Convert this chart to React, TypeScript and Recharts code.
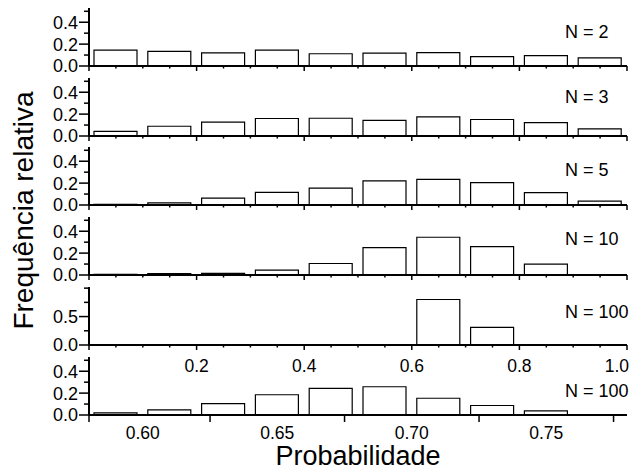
import React from 'react';
import { BarChart, Bar, XAxis, YAxis } from 'recharts';

// ---- data ----
const binCentersWide = [0.05, 0.15, 0.25, 0.35, 0.45, 0.55, 0.65, 0.75, 0.85, 0.95];
const binCentersNarrow = [0.59, 0.61, 0.63, 0.65, 0.67, 0.69, 0.71, 0.73, 0.75, 0.77];

const freqN2 = [0.145, 0.133, 0.12, 0.145, 0.112, 0.118, 0.122, 0.085, 0.095, 0.075];
const freqN3 = [0.043, 0.089, 0.126, 0.16, 0.162, 0.143, 0.174, 0.151, 0.123, 0.066];
const freqN5 = [0.005, 0.02, 0.062, 0.115, 0.155, 0.22, 0.235, 0.205, 0.113, 0.035];
const freqN10 = [0.005, 0.012, 0.015, 0.045, 0.105, 0.25, 0.345, 0.26, 0.1, 0];
const freqN100 = [0, 0, 0, 0, 0, 0, 0.8, 0.31, 0, 0];
const freqN100Zoom = [0.02, 0.046, 0.104, 0.185, 0.243, 0.258, 0.153, 0.087, 0.038, 0];

const panelLabels = ['N = 2', 'N = 3', 'N = 5', 'N = 10', 'N = 100', 'N = 100'];

const wideXTicks = [0, 0.05, 0.1, 0.15, 0.2, 0.25, 0.3, 0.35, 0.4, 0.45, 0.5, 0.55, 0.6, 0.65, 0.7, 0.75, 0.8, 0.85, 0.9, 0.95, 1.0];
const wideXMajor = [0, 0.2, 0.4, 0.6, 0.8, 1.0];
const wideXLabels = [0.2, 0.4, 0.6, 0.8, 1.0];
const narrowXTicks = [0.58, 0.6, 0.625, 0.65, 0.675, 0.7, 0.725, 0.75, 0.775];
const narrowXMarks = [0.58, 0.625, 0.675, 0.725, 0.775];
const narrowXLabels = [0.6, 0.65, 0.7, 0.75];

const yTicksSmall = [0, 0.1, 0.2, 0.3, 0.4, 0.5];
const yLabelsSmall = [0, 0.2, 0.4];
const yTicksLarge = [0, 0.25, 0.5, 0.75, 1.0];
const yLabelsLarge = [0, 0.5];

// ---- layout ----
const W = 629;
const H = 473;
const FONT = '"Liberation Sans", Arial, Helvetica, sans-serif';
const FIRST_ZERO = 66;
const PITCH = 69.7;
const PLOT_H = 58;
const MT = 6;
const XAXIS_H = 32;
const Y_AXIS_W = 89;
const RIGHT_M = 2;
const labelBaselines = [38, 103, 176, 245, 318, 397];

const near = (a: number, list: number[]) => list.some((v) => Math.abs(v - a) < 1e-6);

type PanelCfg = {
  values: number[];
  centers: number[];
  xDomain: [number, number];
  xTicks: number[];
  xMarks: number[];
  xMajor: number[];
  xLabels: number[];
  xDigits: number;
  xMajorLen: number;
  xMinorLen: number;
  xLabelDy: number;
  yDomain: [number, number];
  yTicks: number[];
  yLabels: number[];
  yDigits: number;
};

const wideBase = {
  centers: binCentersWide,
  xDomain: [0, 1] as [number, number],
  xTicks: wideXTicks,
  xMarks: wideXTicks,
  xMajor: wideXMajor,
  xDigits: 1,
  xMajorLen: 5,
  xMinorLen: 2.5,
  xLabelDy: 27,
  yDomain: [0, 0.53] as [number, number],
  yTicks: yTicksSmall,
  yLabels: yLabelsSmall,
  yDigits: 1,
};

const panels: PanelCfg[] = [
  { ...wideBase, values: freqN2, xLabels: [] },
  { ...wideBase, values: freqN3, xLabels: [] },
  { ...wideBase, values: freqN5, xLabels: [] },
  { ...wideBase, values: freqN10, xLabels: [] },
  { ...wideBase, values: freqN100, xLabels: wideXLabels, yDomain: [0, 1.02], yTicks: yTicksLarge, yLabels: yLabelsLarge },
  {
    ...wideBase,
    values: freqN100Zoom,
    centers: binCentersNarrow,
    xDomain: [0.58, 0.78],
    xTicks: narrowXTicks,
    xMarks: narrowXMarks,
    xMajor: narrowXMarks,
    xLabels: narrowXLabels,
    xDigits: 2,
    xMajorLen: 7,
    xLabelDy: 24,
  },
];

function makeXTick(p: PanelCfg) {
  return (props: any) => {
    const { x, y, payload } = props;
    const v = payload.value as number;
    const mark = near(v, p.xMarks);
    const major = near(v, p.xMajor);
    const lab = near(v, p.xLabels);
    const atEnd = Math.abs(v - p.xDomain[1]) < 1e-6;
    return (
      <g>
        {mark && (
          <line x1={x} x2={x} y1={y} y2={y + (major ? p.xMajorLen : p.xMinorLen)} stroke="#000" strokeWidth={1.5} />
        )}
        {lab && (
          <text
            x={atEnd ? x + 2 : x}
            y={y + p.xLabelDy}
            textAnchor={atEnd ? 'end' : 'middle'}
            fontSize={17.5}
            fill="#000"
            fontFamily={FONT}
          >
            {v.toFixed(p.xDigits)}
          </text>
        )}
      </g>
    );
  };
}

function makeYTick(p: PanelCfg) {
  return (props: any) => {
    const { x, y, payload } = props;
    const v = payload.value as number;
    const lab = near(v, p.yLabels);
    const len = lab ? 10 : 5;
    return (
      <g>
        <line x1={x - len} x2={x} y1={y} y2={y} stroke="#000" strokeWidth={1.5} />
        {lab && (
          <text x={x - len - 1} y={y} dy="0.36em" textAnchor="end" fontSize={18} fill="#000" fontFamily={FONT}>
            {v.toFixed(p.yDigits)}
          </text>
        )}
      </g>
    );
  };
}

function Panel({ p, index }: { p: PanelCfg; index: number }) {
  const zero = FIRST_ZERO + PITCH * index;
  const top = zero - PLOT_H - MT;
  const data = p.centers.map((c, i) => ({ x: c, v: p.values[i] }));
  return (
    <div style={{ position: 'absolute', left: 0, top, width: W, height: MT + PLOT_H + XAXIS_H }}>
      <BarChart
        width={W}
        height={MT + PLOT_H + XAXIS_H}
        data={data}
        margin={{ top: MT, right: RIGHT_M, bottom: 0, left: 0 }}
      >
        <XAxis
          dataKey="x"
          type="number"
          domain={p.xDomain}
          ticks={p.xTicks}
          allowDataOverflow
          interval={0}
          height={XAXIS_H}
          tickSize={0}
          tickMargin={0}
          tickLine={false}
          axisLine={{ stroke: '#000', strokeWidth: 2 }}
          tick={makeXTick(p)}
        />
        <YAxis
          type="number"
          domain={p.yDomain}
          ticks={p.yTicks}
          allowDataOverflow
          interval={0}
          width={Y_AXIS_W}
          tickSize={0}
          tickMargin={0}
          tickLine={false}
          axisLine={{ stroke: '#000', strokeWidth: 2 }}
          tick={makeYTick(p)}
        />
        <Bar dataKey="v" fill="#fff" stroke="#000" strokeWidth={1.2} barSize={43} isAnimationActive={false} />
      </BarChart>
    </div>
  );
}

export default function App() {
  return (
    <div style={{ position: 'absolute', left: 0, top: 0, width: W, height: H, background: '#fff', overflow: 'hidden', fontFamily: FONT }}>
      {panels.map((p, i) => (
        <Panel key={i} p={p} index={i} />
      ))}
      <svg width={W} height={H} style={{ position: 'absolute', left: 0, top: 0, pointerEvents: 'none' }}>
        {panelLabels.map((t, i) => (
          <text key={i} x={565} y={labelBaselines[i]} fontSize={18} fill="#000" fontFamily={FONT}>
            {t}
          </text>
        ))}
        <text transform="translate(33,210.5) rotate(-90)" textAnchor="middle" fontSize={28} fill="#000" fontFamily={FONT}>
          Frequência relativa
        </text>
        <text x={358} y={465} textAnchor="middle" fontSize={27} fill="#000" fontFamily={FONT}>
          Probabilidade
        </text>
      </svg>
    </div>
  );
}
